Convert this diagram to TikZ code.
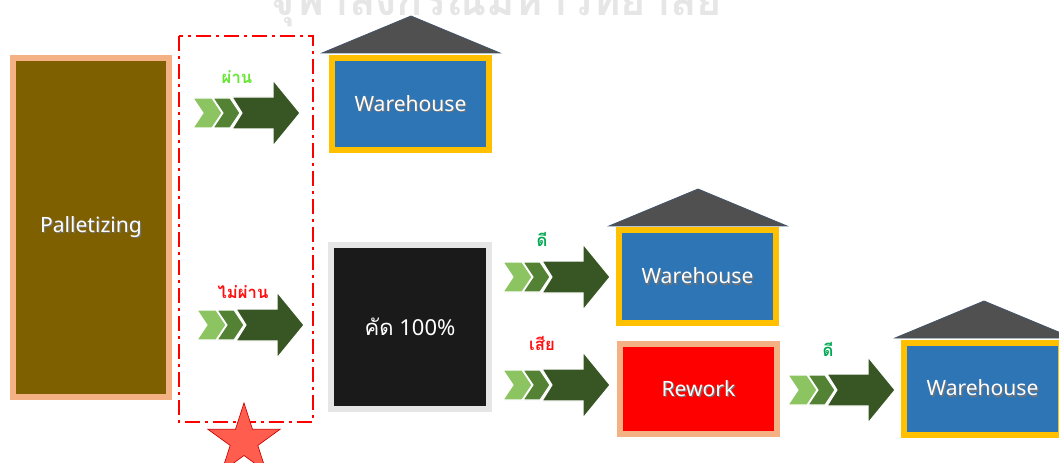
\documentclass[tikz,border=0pt]{standalone}
\usepackage{fontspec}
\setmainfont{Noto Sans}
\newfontfamily\thaifont[Script=Thai]{Loma}
\usetikzlibrary{shapes.geometric}

\definecolor{palletfill}{HTML}{7F6000}
\definecolor{peach}{HTML}{F4B183}
\definecolor{whblue}{HTML}{2E75B6}
\definecolor{whgold}{HTML}{FFC000}
\definecolor{roofgray}{HTML}{505050}
\definecolor{roofedge}{HTML}{44546A}
\definecolor{cutfill}{HTML}{1A1A1A}
\definecolor{cutedge}{HTML}{E7E6E6}
\definecolor{reworkred}{HTML}{FF0000}
\definecolor{chevA}{HTML}{8CC462}
\definecolor{chevB}{HTML}{548235}
\definecolor{chevC}{HTML}{375623}
\definecolor{passgreen}{HTML}{66E633}
\definecolor{goodgreen}{HTML}{00A850}
\definecolor{failred}{HTML}{FF1010}
\definecolor{starred}{HTML}{FF5E4E}
\definecolor{watermark}{HTML}{E6E6E6}

% white text with a soft drop shadow
\newcommand{\dropshad}[1]{\makebox[0pt][l]{\raisebox{-0.9pt}{\kern0.9pt\textcolor{black!55}{#1}}}#1}

\tikzset{
  box/.style={rectangle, line width=4.5pt, inner sep=0pt, text=white,
              font=\fontsize{15.8}{17}\selectfont},
  whbox/.style={box, draw=whgold, fill=whblue,
                minimum width=117.75pt, minimum height=69pt},
  roof/.style={fill=roofgray, draw=roofedge, line width=0.6pt},
  steplabel/.style={font=\thaifont\bfseries\fontsize{12.5}{13}\selectfont, inner sep=0pt},
  chevarrow/.pic={
    \filldraw[fill=chevA, draw=white, line width=0.8pt]
      (0,-15) -- (19,-15) -- (29,0) -- (19,15) -- (0,15) -- (10,0) -- cycle;
    \filldraw[fill=chevB, draw=white, line width=0.8pt]
      (20,-15) -- (37,-15) -- (47,0) -- (37,15) -- (20,15) -- (30,0) -- cycle;
    \filldraw[fill=chevC, draw=white, line width=0.8pt]
      (39,-16) -- (80,-16) -- (80,-33) -- (107,0) -- (80,33) -- (80,16)
      -- (39,16) -- (49,0) -- cycle;
  }
}

\begin{document}
\begin{tikzpicture}[x=0.75pt, y=-0.75pt]
\useasboundingbox (0,0) rectangle (1059,463);

% faint university watermark across the top
\node[anchor=base, text=watermark, inner sep=0pt,
      font=\thaifont\bfseries\fontsize{32.5}{34}\selectfont] (wm) at (496,16)
  {จุฬาลงกรณ์มหาวิทยาลัย};

% palletizing station
\node[box, draw=peach, fill=palletfill, minimum width=117pt, minimum height=254.25pt]
  (pal) at (91,227.5) {\dropshad{Palletizing}};

% inspection zone
\draw[red, line width=2pt, dash pattern=on 11pt off 4pt on 2pt off 4pt]
  (179,36) rectangle (313,422);
\filldraw[fill=starred, draw=red!80!black, line width=0.5pt, shift={(244,441)}]
  (-90:38) \foreach \i in {1,...,9}{ -- ({-90+36*\i}:{ifthenelse(isodd(\i),14.5,38)}) } -- cycle;

% flow arrows
\pic at (193,113) {chevarrow};
\pic at (197,325) {chevarrow};
\pic at (503,277) {chevarrow};
\pic at (503,385) {chevarrow};
\pic at (788,390) {chevarrow};

\node[steplabel, text=passgreen] (lpass) at (237,77) {ผ่าน};
\node[steplabel, text=failred] (lfail) at (243,292) {ไม่ผ่าน};
\node[steplabel, text=goodgreen] (lgood1) at (542,239) {ดี};
\node[steplabel, text=failred] (lbad) at (542,343) {เสีย};
\node[steplabel, text=goodgreen] (lgood2) at (828,349) {ดี};

% 100% sorting
\node[box, draw=cutedge, fill=cutfill, minimum width=118.5pt, minimum height=123pt,
      font=\fontsize{16.5}{18}\selectfont]
  (cut) at (410,327) {{\thaifont คัด} 100\%};

% warehouses with roofs
\node[whbox] (wh1) at (410.5,104) {\dropshad{Warehouse}};
\filldraw[roof] (322,53) -- (411,16) -- (500,53) -- cycle;

\node[whbox] (wh2) at (697.5,276.5) {\dropshad{Warehouse}};
\filldraw[roof] (609,226) -- (698,189) -- (787,226) -- cycle;

\node[whbox] (wh3) at (982.5,388.5) {\dropshad{Warehouse}};
\filldraw[roof] (895,338) -- (984,301) -- (1073,338) -- cycle;

% rework
\node[box, draw=peach, fill=reworkred, minimum width=117.75pt, minimum height=67.5pt]
  (rw) at (698.5,389) {\dropshad{Rework}};
\end{tikzpicture}
\end{document}
